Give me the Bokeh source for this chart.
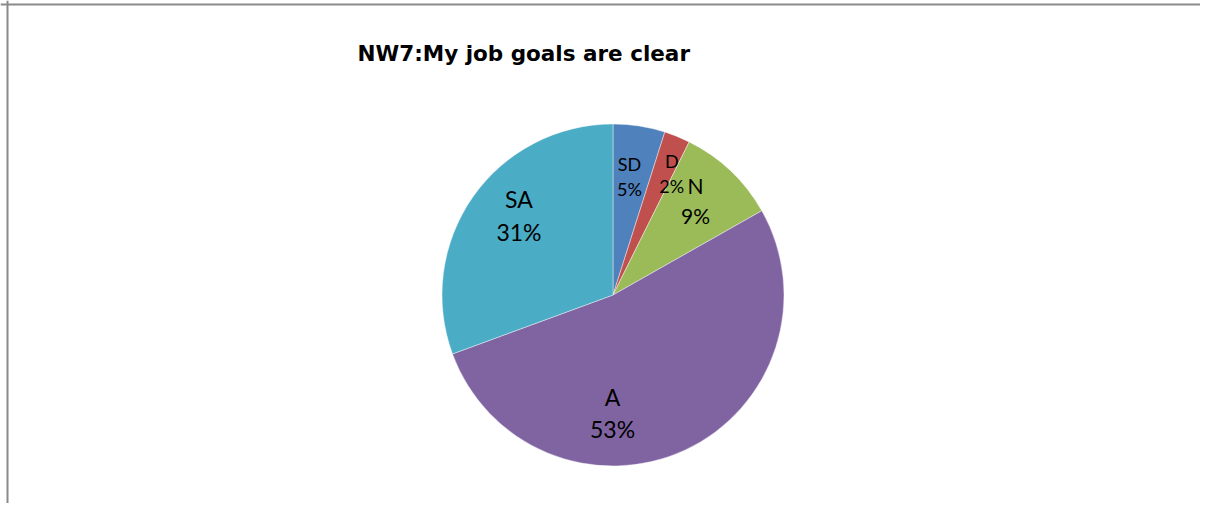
import math
from bokeh.plotting import figure
from bokeh.models import ColumnDataSource, Range1d, Span
from bokeh.core.properties import value
from bokeh.embed import file_html
from bokeh.resources import INLINE

# ---- data ----
categories = ["SD", "D", "N", "A", "SA"]
percents = [4.9, 2.45, 9.45, 52.6, 30.6]
colors = ["#4F81BD", "#C0504D", "#9BBB59", "#8064A2", "#4BACC6"]
title_text = "NW7:My job goals are clear"

# ---- layout (label placement, styles) ----
W, H = 1200, 503
cx, cy, R = 612.5, 208.5, 171
label_angle_deg = [7.9, 25.8, 41.0, 180.2, 310.2]   # clockwise from 12 o'clock
label_rfrac = [0.70, 0.79, 0.735, 0.69, 0.72]
label_font_px = [18, 18, 21, 23, 23]

total = sum(percents)
starts, ends = [], []
cum = 0.0
for v in percents:
    a0 = math.pi / 2 - 2 * math.pi * (cum + v) / total
    a1 = math.pi / 2 - 2 * math.pi * cum / total
    starts.append(a0)
    ends.append(a1)
    cum += v

src = ColumnDataSource(dict(cat=categories, pct=percents, color=colors,
                            start=starts, end=ends))

p = figure(width=W, height=H, output_backend="svg", toolbar_location=None,
           x_range=Range1d(0, W), y_range=Range1d(0, H), min_border=0,
           match_aspect=False)
p.axis.visible = False
p.grid.visible = False
p.outline_line_color = None
p.background_fill_color = "white"
p.border_fill_color = "white"

p.wedge(x=cx, y=cy, radius=R, start_angle="start", end_angle="end",
        fill_color="color", line_color="white", line_width=0.6, line_alpha=0.7,
        source=src)

# labels
nx, ny, px_, py_, names, pcts, sizes = [], [], [], [], [], [], []
for cat, v, ang, rf, fs in zip(categories, percents, label_angle_deg, label_rfrac, label_font_px):
    t = math.radians(ang)
    lx = cx + rf * R * math.sin(t)
    ly = cy + rf * R * math.cos(t)
    gap = 1.42 * fs
    nx.append(lx); ny.append(ly + gap / 2)
    px_.append(lx); py_.append(ly - gap / 2)
    names.append(cat)
    pcts.append(f"{v:.0f}%")
    sizes.append(f"{fs}px")

lsrc = ColumnDataSource(dict(nx=nx, ny=ny, px=px_, py=py_, name=names, pct=pcts, size=sizes))
p.text(x="nx", y="ny", text="name", source=lsrc, text_align="center",
       text_baseline="middle", text_font=value("Lato"), text_font_size="size",
       text_color="#000000")
p.text(x="px", y="py", text="pct", source=lsrc, text_align="center",
       text_baseline="middle", text_font=value("Lato"), text_font_size="size",
       text_color="#000000")

# title
p.text(x=[357], y=[H - 53], text=[title_text], text_align="left",
       text_baseline="alphabetic", text_font=value("DejaVu Sans"), text_font_size="21.5px",
       text_font_style="bold", text_color="#000000")

# frame (top and left edges)
p.add_layout(Span(location=H - 4, dimension="width", line_color="#8a8a8a", line_width=2))
p.add_layout(Span(location=7, dimension="height", line_color="#8a8a8a", line_width=2))

open("out.html", "w").write(file_html(p, INLINE))
